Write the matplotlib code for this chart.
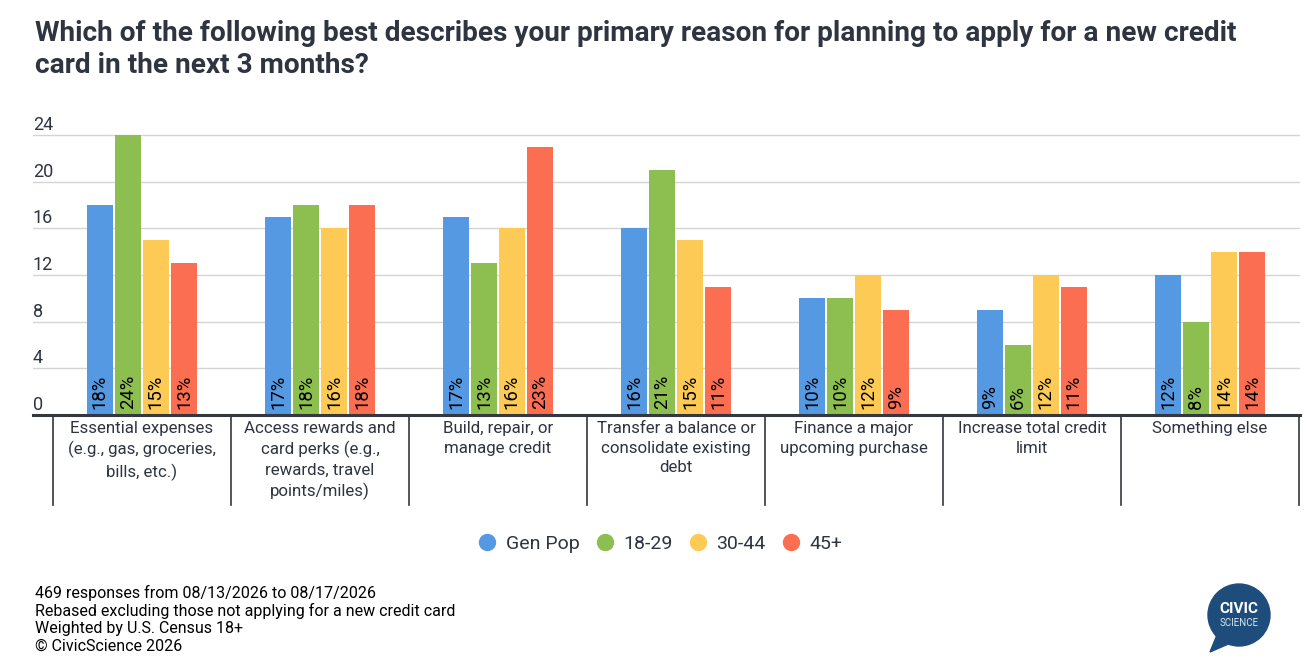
import matplotlib
matplotlib.use("Agg")
import matplotlib.pyplot as plt
from matplotlib.patches import Circle, Polygon
import numpy as np

plt.rcParams['font.family'] = ['Roboto', 'DejaVu Sans']

categories = ["Essential expenses\n(e.g., gas, groceries,\nbills, etc.)",
              "Access rewards and\ncard perks (e.g.,\nrewards, travel\npoints/miles)",
              "Build, repair, or\nmanage credit",
              "Transfer a balance or\nconsolidate existing\ndebt",
              "Finance a major\nupcoming purchase",
              "Increase total credit\nlimit",
              "Something else"]
series = ["Gen Pop", "18-29", "30-44", "45+"]
gen_pop = [18, 17, 17, 16, 10, 9, 12]
age_18_29 = [24, 18, 13, 21, 10, 6, 8]
age_30_44 = [15, 16, 16, 15, 12, 12, 14]
age_45 = [13, 18, 23, 11, 9, 11, 14]
yticks = [0, 4, 8, 12, 16, 20, 24]

colors = ["#5599E2", "#8CBF50", "#FDCB55", "#FC6E51"]
text_col = "#2E3440"

W, H = 1314, 670
fig = plt.figure(figsize=(W / 100, H / 100), dpi=100)

# axes: left 33px, right 1300px, bottom y=415, top (24) at y=135
left, right = 33, 1300
y0, y24 = 415, 135
top_px = 100
ax = fig.add_axes([left / W, 1 - y0 / H, (right - left) / W, (y0 - top_px) / H])
unit = (y0 - y24) / 24.0
ax.set_ylim(0, (y0 - top_px) / unit)
px_per_cat = 178.0
ax.set_xlim(-20 / px_per_cat, (right - 53) / px_per_cat)

for s in ax.spines.values():
    s.set_visible(False)
ax.set_xticks([])
ax.set_yticks([])

# gridlines + labels
for t in yticks[1:]:
    ax.axhline(t, color="#D4D4D4", lw=1, zorder=0)
for t in yticks:
    ax.text(0.0, t + 5 / unit, str(t), transform=ax.get_yaxis_transform(),
            ha="left", va="baseline", fontsize=13, color=text_col)

values = [gen_pop, age_18_29, age_30_44, age_45]
bw = 26 / px_per_cat
step = 28 / px_per_cat
x = np.arange(len(categories)) + 0.5
for i, (vals, c) in enumerate(zip(values, colors)):
    xs = x + (i - 1.5) * step
    ax.bar(xs, vals, width=bw, color=c, zorder=2)
    for xi, v in zip(xs, vals):
        ax.text(xi, 0.55, f"{v}%", rotation=90, ha="center", va="bottom",
                fontsize=13.3, color="black", zorder=3)

# baseline
ax.axhline(0, color="#333840", lw=2.2, zorder=4, clip_on=False)

# category boxes below axis
sep_bottom = -(505 - y0) / unit
for k in range(len(categories) + 1):
    ax.plot([k, k], [0, sep_bottom], color="#333840", lw=1.2, clip_on=False)
for xi, lab in zip(x, categories):
    ax.text(xi, -(421 - y0) / unit, lab, ha="center", va="top", fontsize=12.2,
            color=text_col, linespacing=1.38)

# title
fig.text(35 / W, 1 - 20 / H,
         "Which of the following best describes your primary reason for planning to apply for a new credit\ncard in the next 3 months?",
         ha="left", va="top", fontsize=20.2, fontweight="bold", color=text_col,
         linespacing=1.26)

# legend
handles = [plt.Line2D([], [], marker="o", linestyle="", markersize=11.5,
                      markerfacecolor=c, markeredgecolor=c) for c in colors]
fig.legend(handles, series, loc="center", bbox_to_anchor=(0.503, 1 - 544 / H),
           ncol=4, frameon=False, fontsize=14, handlelength=0.8,
           handletextpad=0.55, columnspacing=0.9, labelcolor=text_col)

# footer
footer = ["469 responses from 08/13/2026 to 08/17/2026",
          "Rebased excluding those not applying for a new credit card",
          "Weighted by U.S. Census 18+",
          "\u00a9 CivicScience 2026"]
for j, line in enumerate(footer):
    fig.text(35 / W, 1 - (593 + j * 17.6) / H, line, ha="left", va="center",
             fontsize=11.5, color="black")

# logo
lax = fig.add_axes([1195 / W, 1 - 655 / H, 90 / W, 75 / H])
lax.set_xlim(0, 90)
lax.set_ylim(75, 0)
lax.set_aspect("equal")
lax.axis("off")
navy = "#1E4D7B"
lax.add_patch(Circle((44, 35), 31, color=navy))
lax.add_patch(Polygon([[24, 50], [15, 72], [38, 62]], color=navy))
lax.text(44, 29, "CIVIC", ha="center", va="center", color="white",
         fontsize=11, fontweight="bold")
lax.text(44, 43, "SCIENCE", ha="center", va="center", color="#D8E4F0",
         fontsize=7)

fig.savefig("out.png", dpi=100)
